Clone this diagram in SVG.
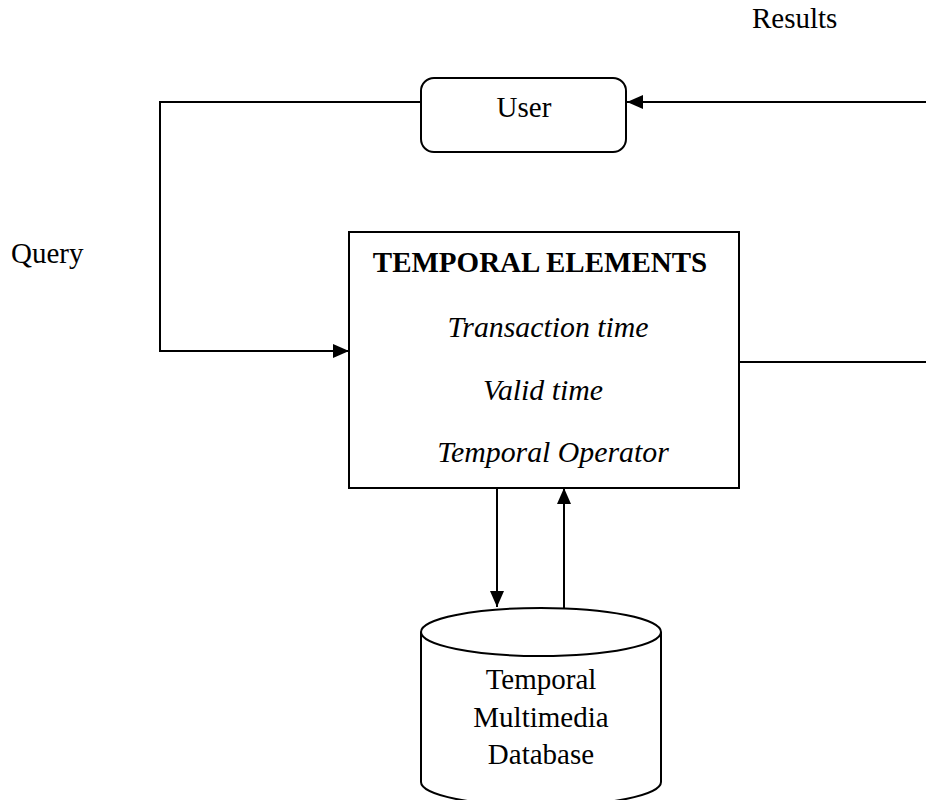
<svg xmlns="http://www.w3.org/2000/svg" width="926" height="800" viewBox="0 0 926 800">
<style>
  text { font-family: "Liberation Serif", "Times New Roman", serif; font-size: 29px; fill: #000; }
  .c { text-anchor: middle; }
  .b { font-weight: bold; }
  .i { font-style: italic; font-size: 29.8px; }
  .shape { fill: #fff; stroke: #000; stroke-width: 2; }
  .line { fill: none; stroke: #000; stroke-width: 2; }
</style>
<defs>
  <marker id="arr" viewBox="0 0 16 14" refX="16" refY="7" markerWidth="16" markerHeight="14" markerUnits="userSpaceOnUse" orient="auto">
    <path d="M0,0 L16,7 L0,14 Z" fill="#000"/>
  </marker>
</defs>
<rect width="926" height="800" fill="#fff"/>

<g id="labels">
  <text x="752" y="28">Results</text>
  <text x="11" y="263">Query</text>
</g>

<g id="user">
  <rect class="shape" x="421" y="78" width="205" height="74" rx="13" ry="13"/>
  <text class="c" x="524" y="117">User</text>
</g>

<g id="temporal-elements">
  <rect class="shape" x="349" y="232" width="390" height="256"/>
  <text class="c b" x="540" y="272">TEMPORAL ELEMENTS</text>
  <text class="c i" x="548" y="337">Transaction time</text>
  <text class="c i" x="543" y="400">Valid time</text>
  <text class="c i" x="553" y="462">Temporal Operator</text>
</g>

<g id="database">
  <path class="shape" d="M421,632 L421,782 A120,24 0 0 0 661,782 L661,632"/>
  <ellipse class="shape" cx="541" cy="632" rx="120" ry="24"/>
  <text class="c" x="541" y="689">Temporal</text>
  <text class="c" x="541" y="727">Multimedia</text>
  <text class="c" x="541" y="764">Database</text>
</g>

<g id="connectors">
  <polyline class="line" points="421,102 160,102 160,351 349,351" marker-end="url(#arr)"/>
  <line class="line" x1="926" y1="102" x2="627" y2="102" stroke-width="3" marker-end="url(#arr)"/>
  <line class="line" x1="739" y1="362" x2="926" y2="362"/>
  <line class="line" x1="497" y1="488" x2="497" y2="607" marker-end="url(#arr)"/>
  <line class="line" x1="564" y1="608" x2="564" y2="488" marker-end="url(#arr)"/>
</g>
</svg>
